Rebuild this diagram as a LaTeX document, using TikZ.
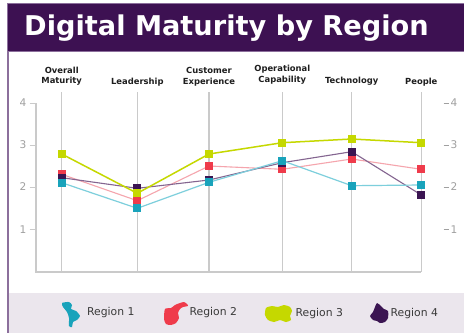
\documentclass[tikz,border=0pt]{standalone}
\usepackage{fontspec}
\setmainfont{DejaVu Sans}
\definecolor{bandpurple}{HTML}{3D1152}
\definecolor{bandedge}{HTML}{8C6F9C}
\definecolor{legendbg}{HTML}{EBE6ED}
\definecolor{gridgray}{HTML}{CACACA}
\definecolor{ticktext}{HTML}{A0A0A0}
\definecolor{labeltext}{HTML}{1E1E1E}
\definecolor{legtext}{HTML}{3A3A3A}
\definecolor{colA}{HTML}{19A3BB}
\definecolor{colAline}{HTML}{7DCFDC}
\definecolor{colB}{HTML}{EF3B4B}
\definecolor{colBline}{HTML}{F5A5AD}
\definecolor{colC}{HTML}{C5D800}
\definecolor{colCline}{HTML}{C5D800}
\definecolor{colD}{HTML}{3B1552}
\definecolor{colDline}{HTML}{846590}
\tikzset{
  gridline/.style={draw=gridgray, line width=1.1pt},
  sqmark/.style={rectangle, minimum size=8pt, inner sep=0pt, draw=none},
  catlabel/.style={font=\fontsize{8.4}{10.5}\selectfont\bfseries, text=labeltext, align=center, inner sep=0pt, anchor=south},
  ticklabel/.style={font=\fontsize{10.6}{12}\selectfont, text=ticktext, inner sep=0pt},
  legendlabel/.style={font=\fontsize{10.8}{12}\selectfont, text=legtext, inner sep=0pt, anchor=west},
  lineA/.style={draw=colAline, line width=1.2pt},
  lineB/.style={draw=colBline, line width=1.1pt},
  lineC/.style={draw=colCline, line width=1.5pt},
  lineD/.style={draw=colDline, line width=1.1pt},
  icon/.style={draw=none}
}
\begin{document}
\begin{tikzpicture}[x=1pt, y=-1pt]
\useasboundingbox (0,0) rectangle (464,333);
\fill[white] (0,0) rectangle (464,333);
% title band
\fill[bandpurple] (7,4) rectangle (464,51);
\draw[bandedge, line width=1pt] (464,3.5) -- (7,3.5) -- (7,51.5) -- (464,51.5);
\node[anchor=base west, inner sep=0pt, text=white, font=\fontsize{27.2}{30}\selectfont\bfseries] (title) at (24,35) {Digital Maturity by Region};
% left border
\draw[bandedge, line width=1.5pt] (8,51) -- (8,333);
% legend band
\fill[legendbg] (9,293) rectangle (464,333);
% columns
\foreach \x [count=\i from 0] in {61.7,137.3,209,282.3,351.7,421.3}{
  \coordinate (g\i-t) at (\x,92);
  \coordinate (g\i-b) at (\x,272);
  \draw[gridline] (g\i-t) -- (g\i-b);
}
% axes
\coordinate (axtop) at (36,103);
\coordinate (axorigin) at (36,272);
\draw[gridline] (axtop) -- (axorigin) -- (g5-b);
\foreach \v/\y in {4/103,3/145,2/187,1/229.3}{
  \coordinate (lt\v) at (29.5,\y);
  \coordinate (la\v) at (36,\y);
  \draw[gridline, line width=0.9pt] (lt\v) -- (la\v);
  \node[ticklabel, anchor=east] (yl\v) at (26.5,\y) {\v};
  \coordinate (rt\v-a) at (443.5,\y);
  \coordinate (rt\v-b) at (448.5,\y);
  \draw[draw=ticktext, line width=0.8pt] (rt\v-a) -- (rt\v-b);
  \node[ticklabel, anchor=west] (yr\v) at (450.5,\y) {\v};
}
% category labels
\node[catlabel] (c0) at (61.7,86) {Overall\\Maturity};
\node[catlabel] (c1) at (137.3,86) {Leadership};
\node[catlabel] (c2) at (209,86) {Customer\\Experience};
\node[catlabel] (c3) at (282.3,84.5) {Operational\\Capability};
\node[catlabel] (c4) at (351.7,86) {Technology};
\node[catlabel] (c5) at (421.3,86) {People};
% data coordinates
\foreach \r/\ys in {A/{182.7,208.3,182.3,160.7,185.7,185},
                    B/{174.3,200.7,166,169.3,159,169.3},
                    C/{154,193.3,154,142.7,139,142.7},
                    D/{177.7,188.3,180,162.7,151.7,195}}{
  \foreach \y [count=\i from 0] in \ys {
    \coordinate (r\r-\i) at (g\i-t |- 0,\y);
  }
}
% lines
\foreach \r in {B,D,A,C}{
  \draw[line\r] (r\r-0) \foreach \i in {1,...,5}{ -- (r\r-\i)};
}
% markers
\foreach \r in {B,D,A,C}{
  \foreach \i in {0,...,5}{
    \node[sqmark, fill=col\r] (m\r-\i) at (r\r-\i) {};
  }
}
% legend
\fill[colA, icon] plot[smooth cycle, tension=0.4] coordinates {(62,303) (69,302) (72,305) (71,309) (76,311) (80,316) (77,320) (73,322) (72,327) (69,326) (69,318) (67,312) (63,307)};
\node[legendlabel] (l1) at (87,313) {Region 1};
\fill[colB, icon] plot[smooth cycle, tension=0.4] coordinates {(165,309) (171,308) (175,305) (180,303) (184,302) (187,304) (188,306) (183,307) (180,309) (178,313) (179,318) (176,323) (171,325) (166,324) (164,319)};
\node[legendlabel] (l2) at (189.5,313) {Region 2};
\fill[colC, icon] plot[smooth cycle, tension=0.4] coordinates {(266,308) (272,306) (278,307) (284,305) (290,307) (292,311) (290,316) (291,320) (286,322) (280,320) (274,322) (268,320) (265,315)};
\node[legendlabel] (l3) at (295.5,314) {Region 3};
\fill[colD, icon] plot[smooth cycle, tension=0.4] coordinates {(377,303) (381,306) (384,309) (388,311) (388,318) (385,322) (380,323) (377,321) (373,320) (370,316) (373,312) (375,307)};
\node[legendlabel] (l4) at (390.5,314) {Region 4};
\end{tikzpicture}
\end{document}
